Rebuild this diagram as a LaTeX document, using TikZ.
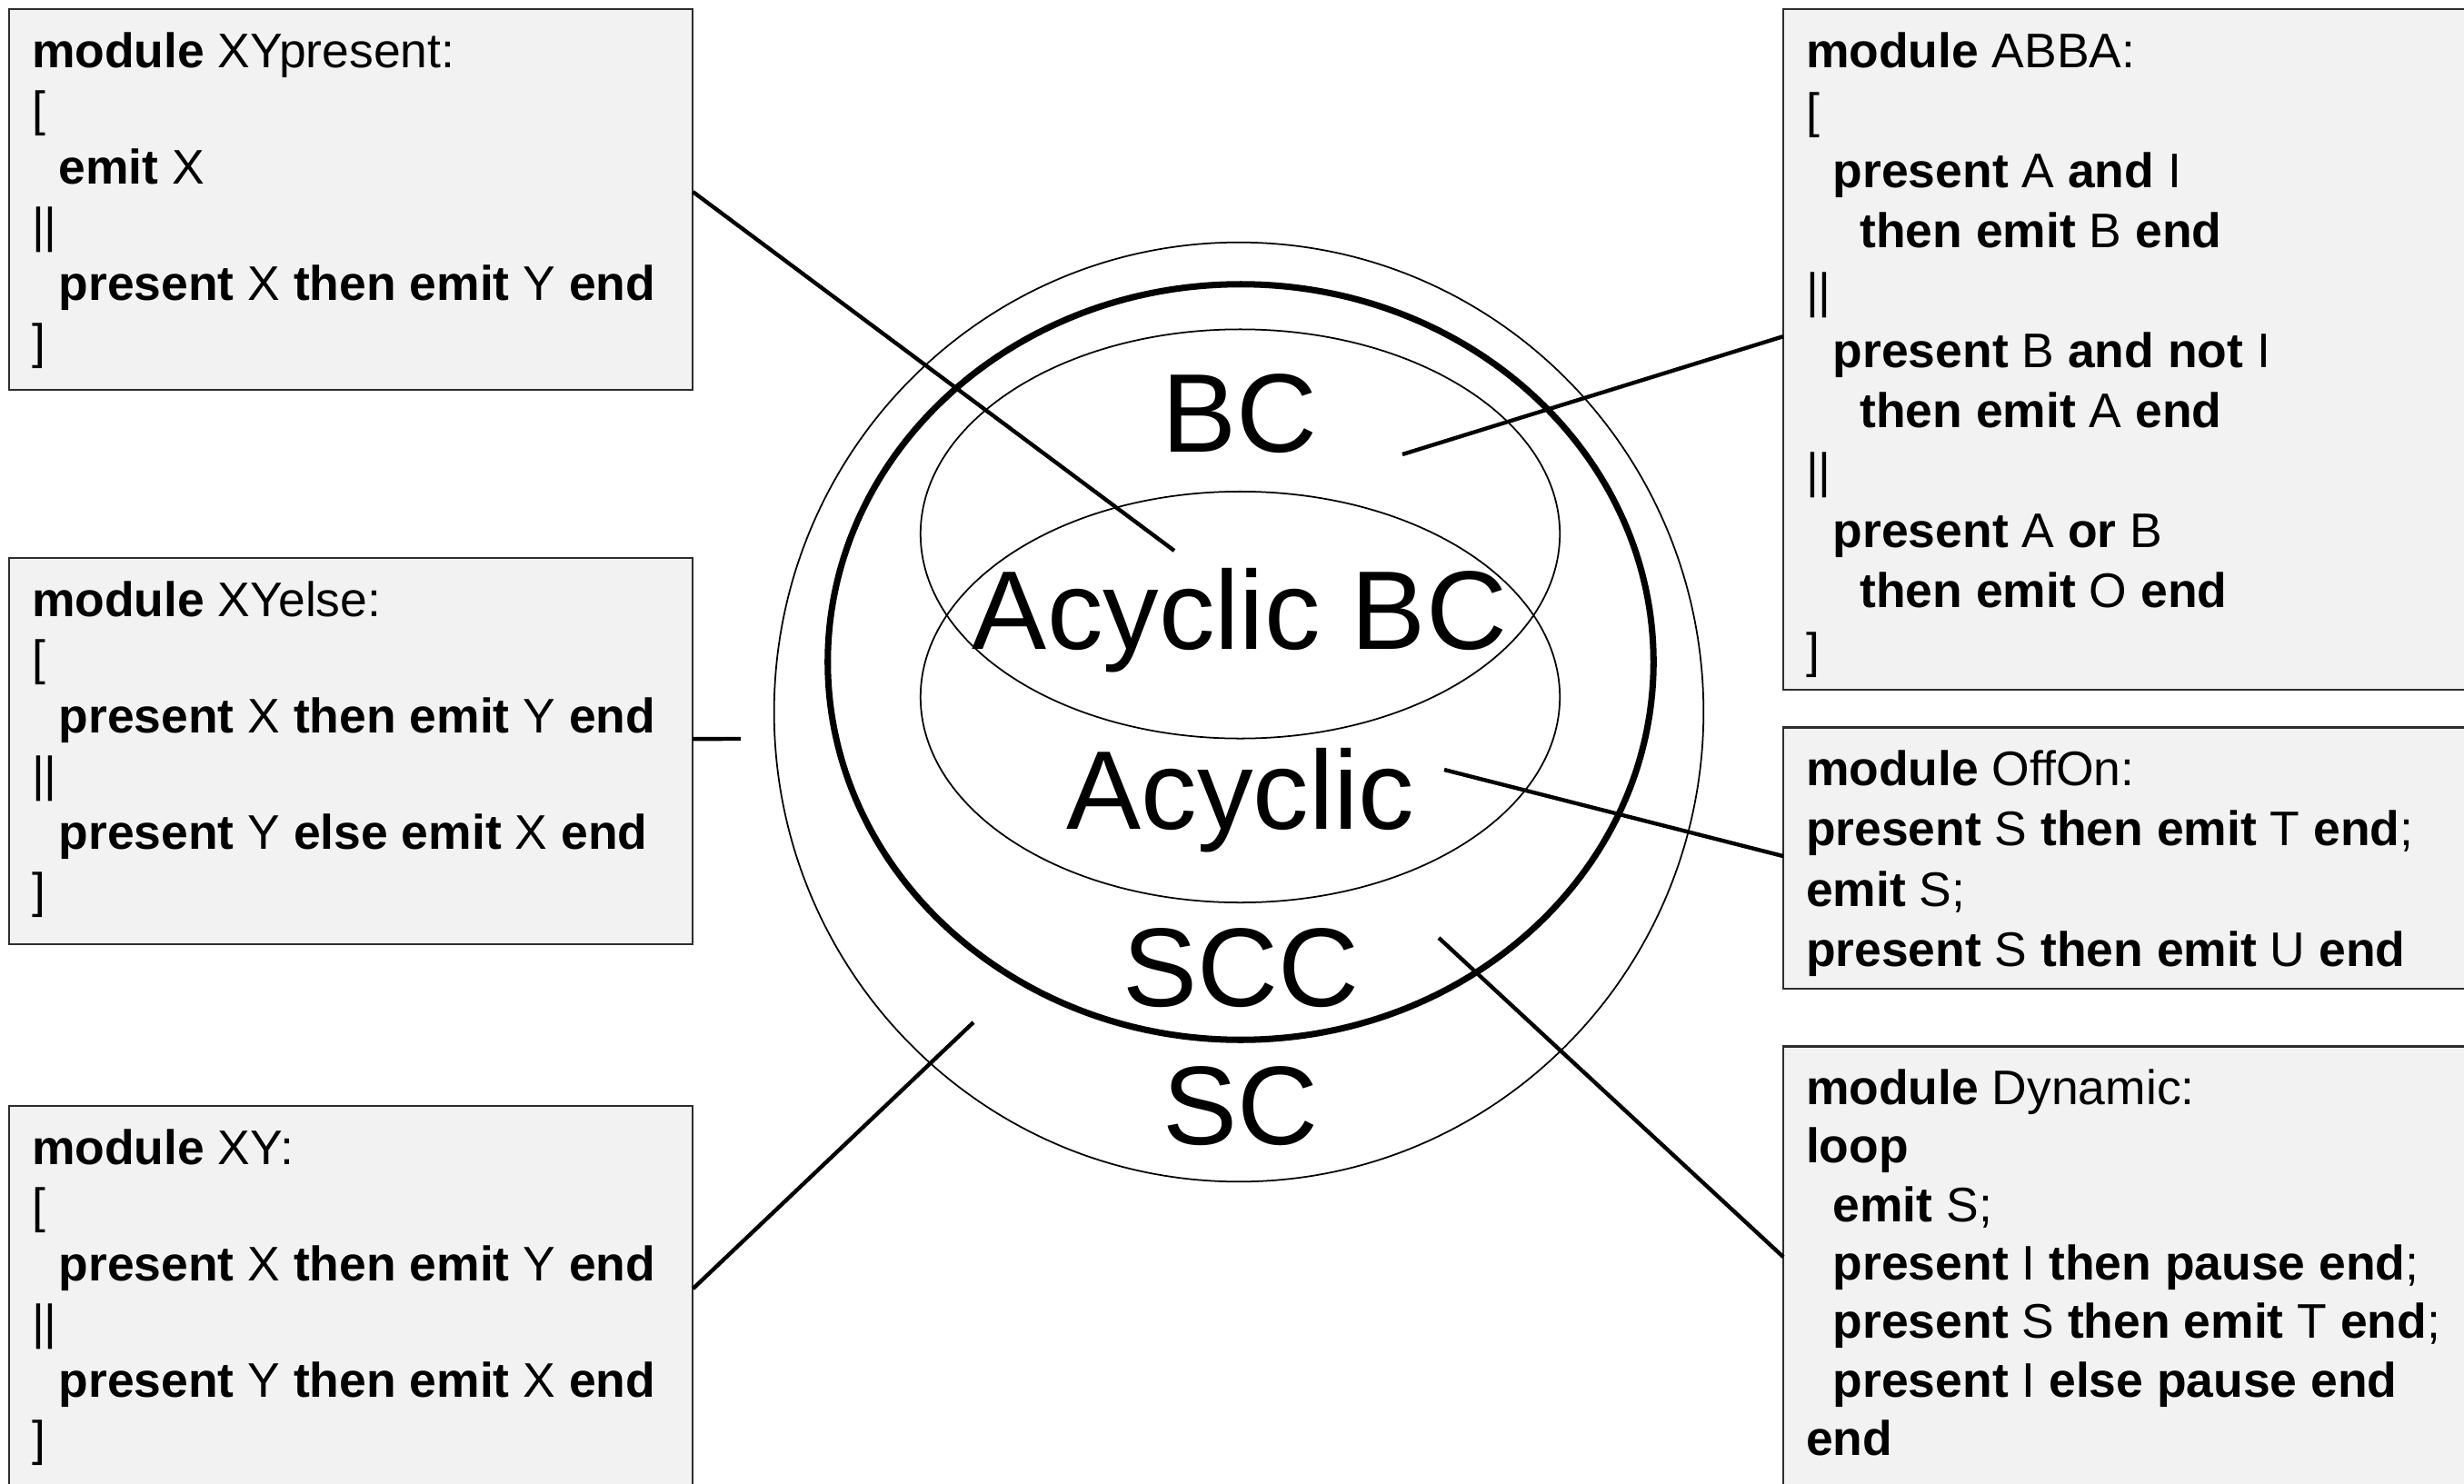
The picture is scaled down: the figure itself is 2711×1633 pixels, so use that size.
\documentclass[tikz,border=0pt]{standalone}
\usepackage{fontspec}
\setmainfont{Liberation Sans}
\usetikzlibrary{shapes.geometric}
\definecolor{boxfill}{RGB}{242,242,242}
\definecolor{boxline}{RGB}{45,45,45}
\newcommand\kw[1]{\textbf{#1}}
\newcommand\ind{\hspace*{0.556em}}
\newcommand\indd{\hspace*{1.112em}}

\begin{document}
\begin{tikzpicture}[x=0.01cm, y=-0.01cm,
  codebox/.style={draw=boxline, line width=0.6pt, fill=boxfill, anchor=north west,
                  inner sep=0pt, outer sep=0pt},
  code/.style={anchor=north west, inner sep=0pt, outer sep=0pt, align=left},
  lcode/.style={code, font=\fontsize{15.2}{18.21}\selectfont},
  set/.style={draw, ellipse, inner sep=0pt, outer sep=0pt, line width=0.5pt},
  setlabel/.style={anchor=base, inner sep=0pt, font=\fontsize{35}{42}\selectfont},
  link/.style={line width=1.25pt},
]
\useasboundingbox (0,0) rectangle (2711,1633);
\fill[white] (0,0) rectangle (2711,1633);
\clip (0,0) rectangle (2711,1633);

% ---- program boxes, left column ----
\node[codebox, minimum width=7.52cm, minimum height=4.19cm] (xyp) at (10,10) {};
\node[lcode] (xyp-t) at ([shift={(25,19.2)}]xyp.north west)
  {\strut\kw{module} XYpresent:\\
   {[}\\
   \ind\kw{emit} X\\
   ||\\
   \ind\kw{present} X \kw{then emit} Y \kw{end}\\
   ]};

\node[codebox, minimum width=7.52cm, minimum height=4.25cm] (xye) at (10,614) {};
\node[lcode] (xye-t) at ([shift={(25,19.2)}]xye.north west)
  {\strut\kw{module} XYelse:\\
   {[}\\
   \ind\kw{present} X \kw{then emit} Y \kw{end}\\
   ||\\
   \ind\kw{present} Y \kw{else emit} X \kw{end}\\
   ]};

\node[codebox, minimum width=7.52cm, minimum height=4.5cm] (xy) at (10,1217) {};
\node[lcode] (xy-t) at ([shift={(25,19.2)}]xy.north west)
  {\strut\kw{module} XY:\\
   {[}\\
   \ind\kw{present} X \kw{then emit} Y \kw{end}\\
   ||\\
   \ind\kw{present} Y \kw{then emit} X \kw{end}\\
   ]};

% ---- program boxes, right column ----
\node[codebox, minimum width=8cm, minimum height=7.49cm] (abba) at (1962,10) {};
\node[code, font=\fontsize{15.2}{18.78}\selectfont] (abba-t) at ([shift={(25,17.8)}]abba.north west)
  {\strut\kw{module} ABBA:\\
   {[}\\
   \ind\kw{present} A \kw{and} I\\
   \indd\kw{then emit} B \kw{end}\\
   ||\\
   \ind\kw{present} B \kw{and not} I\\
   \indd\kw{then emit} A \kw{end}\\
   ||\\
   \ind\kw{present} A \kw{or} B\\
   \indd\kw{then emit} O \kw{end}\\
   ]};

\node[codebox, minimum width=8cm, minimum height=2.87cm] (offon) at (1962,800.5) {};
\node[code, font=\fontsize{15.2}{18.86}\selectfont] (offon-t) at ([shift={(25,17.6)}]offon.north west)
  {\strut\kw{module} OffOn:\\
   \kw{present} S \kw{then emit} T \kw{end};\\
   \kw{emit} S;\\
   \kw{present} S \kw{then emit} U \kw{end}};

\node[codebox, minimum width=8cm, minimum height=5cm] (dyn) at (1962,1151.5) {};
\node[code, font=\fontsize{15.2}{18.29}\selectfont] (dyn-t) at ([shift={(25,19)}]dyn.north west)
  {\strut\kw{module} Dynamic:\\
   \kw{loop}\\
   \ind\kw{emit} S;\\
   \ind\kw{present} I \kw{then pause end};\\
   \ind\kw{present} S \kw{then emit} T \kw{end};\\
   \ind\kw{present} I \kw{else pause end}\\
   \kw{end}};

% ---- nested classes ----
\node[set, minimum width=10.22cm, minimum height=10.33cm] (sc) at (1363,783.5) {};
\node[set, line width=2pt, minimum width=9.08cm, minimum height=8.31cm] (scc) at (1365,728.5) {};
\node[set, minimum width=7.03cm, minimum height=4.5cm] (bc) at (1364.5,587.5) {};
\node[set, minimum width=7.03cm, minimum height=4.52cm] (acy) at (1364.5,767) {};

\node[setlabel] (l-bc) at (1364,497) {BC};
\node[setlabel] (l-abc) at (1364,714) {Acyclic BC};
\node[setlabel] (l-acy) at (1365,912) {Acyclic};
\node[setlabel] (l-scc) at (1365,1107) {SCC};
\node[setlabel] (l-sc) at (1365,1259) {SC};

% ---- pointers from programs into the classes ----
\coordinate (p-xyp) at (1292,606);
\coordinate (p-xye) at (815,813);
\coordinate (p-xy) at (1071,1125);
\coordinate (p-abba) at (1543,500);
\coordinate (p-offon) at (1589,847);
\coordinate (p-dyn) at (1583,1032);

\draw[link] ([yshift=0.085cm]xyp.east) -- (p-xyp);
\draw[link] ([yshift=0.135cm]xye.east) -- (p-xye);
\draw[link] ([yshift=0.24cm]xy.east) -- (p-xy);
\draw[link] ([yshift=0.145cm]abba.west) -- (p-abba);
\draw[link] ([yshift=0.02cm]offon.west) -- (p-offon);
\draw[link] ([yshift=0.185cm]dyn.west) -- (p-dyn);
\end{tikzpicture}
\end{document}
